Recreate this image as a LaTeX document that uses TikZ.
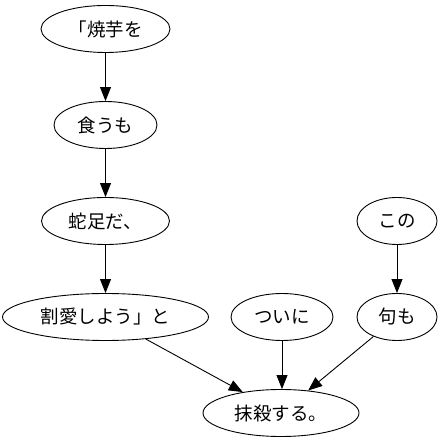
\documentclass[tikz,border=0pt]{standalone}
\usepackage{fontspec}
\newfontfamily\cjk{Noto Sans CJK JP}
\usetikzlibrary{shapes.geometric,arrows.meta}
\begin{document}
\begin{tikzpicture}[x=1pt,y=1pt,
  nd/.style={draw,ellipse,line width=0.9pt,inner sep=0pt,minimum height=47pt,font=\cjk\fontsize{18.5}{20}\selectfont},
  ar/.style={-{Triangle[length=14pt,width=11pt]},line width=0.9pt}]
\useasboundingbox (0,0) rectangle (441,443);
\node[nd,minimum width=129pt] (a) at (105.5,414) {「焼芋を};
\node[nd,minimum width=103pt] (b) at (105.5,318) {食うも};
\node[nd,minimum width=128pt] (c) at (105.5,222) {蛇足だ、};
\node[nd,minimum width=206pt] (d) at (105.5,126) {割愛しよう」と};
\node[nd,minimum width=102pt] (e) at (282,126) {ついに};
\node[nd,minimum width=80pt] (f) at (397,222) {この};
\node[nd,minimum width=80pt] (g) at (397,126) {句も};
\node[nd,minimum width=156pt] (h) at (281,30) {抹殺する。};
\draw[ar] (a) -- (b);
\draw[ar] (b) -- (c);
\draw[ar] (c) -- (d);
\draw[ar] (f) -- (g);
\draw[ar] (d) -- (h);
\draw[ar] (e) -- (e |- h.north);
\draw[ar] (g) -- (h);
\end{tikzpicture}
\end{document}
